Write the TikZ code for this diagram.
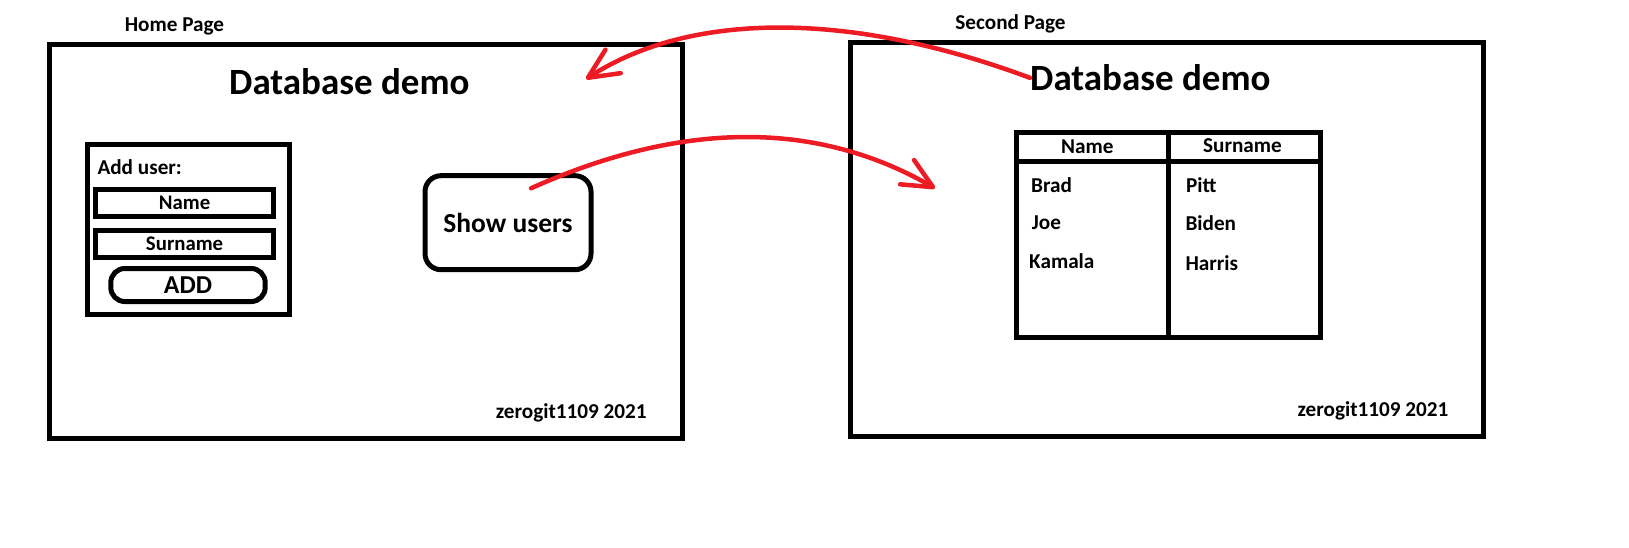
\documentclass[tikz,border=0pt]{standalone}
\usepackage{fontspec}
\setmainfont{Carlito}
\usetikzlibrary{arrows.meta}
\definecolor{paintred}{RGB}{237,28,36}

\begin{document}
\begin{tikzpicture}[x=1pt,y=-1pt,
  pageframe/.style={draw,line width=5pt,inner sep=0pt},
  fieldbox/.style={draw,line width=5pt,inner sep=0pt,font=\bfseries\fontsize{20.8}{24}\selectfont},
  lbl/.style={inner sep=0pt,font=\bfseries\fontsize{21.2}{24}\selectfont},
  bigtitle/.style={inner sep=0pt,anchor=base west,font=\bfseries\fontsize{37}{40}\selectfont},
  redarrow/.style={draw=paintred,line width=4.5pt,line cap=round,
    -{Straight Barb[length=30pt,width=28pt,round]}}]
  \path[fill=white,use as bounding box] (0,0) rectangle (1629,547);
  % home page
  \node[lbl,anchor=base] (homelbl) at (174.5,31) {Home Page};
  \node[pageframe,minimum width=633pt,minimum height=394pt] (home) at (365.5,241) {};
  \node[bigtitle] (dbone) at (229,94) {Database demo};
  \node[pageframe,minimum width=202pt,minimum height=170pt] (adduser) at (188.6,229.2) {};
  \node[lbl,anchor=base west] (addlbl) at (97.3,174.3) {Add user:};
  \node[fieldbox,minimum width=177.7pt,minimum height=26.7pt] (namefld) at (184.6,203.2) {Name};
  \node[fieldbox,minimum width=177.7pt,minimum height=27pt] (surfld) at (184.6,244) {Surname};
  \node[fieldbox,rounded corners=14pt,minimum width=154.4pt,minimum height=33pt,
    font=\bfseries\fontsize{25.8}{28}\selectfont] (addbtn) at (188,285) {ADD};
  \node[fieldbox,rounded corners=16pt,minimum width=166pt,minimum height=94pt,
    font=\bfseries\fontsize{27.5}{30}\selectfont] (showbtn) at (508,222.7) {Show users};
  \node[lbl,anchor=base] (signone) at (571.3,418) {zerogit1109 2021};
  % second page
  \node[lbl,anchor=base] (secondlbl) at (1010.5,29.3) {Second Page};
  \node[pageframe,minimum width=633pt,minimum height=394pt] (second) at (1166.5,239) {};
  \node[bigtitle] (dbtwo) at (1030,90.7) {Database demo};
  \node[pageframe,minimum width=303.7pt,minimum height=205pt] (users) at (1168.3,235) {};
  \draw[line width=5pt] (users.north) -- (users.south);
  \draw[line width=5pt] ([yshift=-31.7pt]users.north west) -- ([yshift=-31.7pt]users.north east);
  \node[lbl,anchor=base] (namehd) at (1087.3,153.3) {Name};
  \node[lbl,anchor=base] (surhd) at (1242.5,152.3) {Surname};
  \node[lbl,anchor=base west] (brad) at (1031,192.7) {Brad};
  \node[lbl,anchor=base west] (joe) at (1031.7,229.3) {Joe};
  \node[lbl,anchor=base west] (kamala) at (1029,268.3) {Kamala};
  \node[lbl,anchor=base west] (pitt) at (1186,192.7) {Pitt};
  \node[lbl,anchor=base west] (biden) at (1185.3,230.7) {Biden};
  \node[lbl,anchor=base west] (harris) at (1185.3,270.7) {Harris};
  \node[lbl,anchor=base] (signtwo) at (1373,416.5) {zerogit1109 2021};
  % links between the pages
  \coordinate (backtip) at (586,79);
  \coordinate (showpt) at (531,188.3);
  \coordinate (listtip) at (935,188.3);
  \draw[redarrow] (dbtwo.west) .. controls (851,11) and (690.7,11) .. (backtip);
  \draw[redarrow] (showpt) .. controls (682.4,120.3) and (817.2,120.3) .. (listtip);
\end{tikzpicture}
\end{document}
